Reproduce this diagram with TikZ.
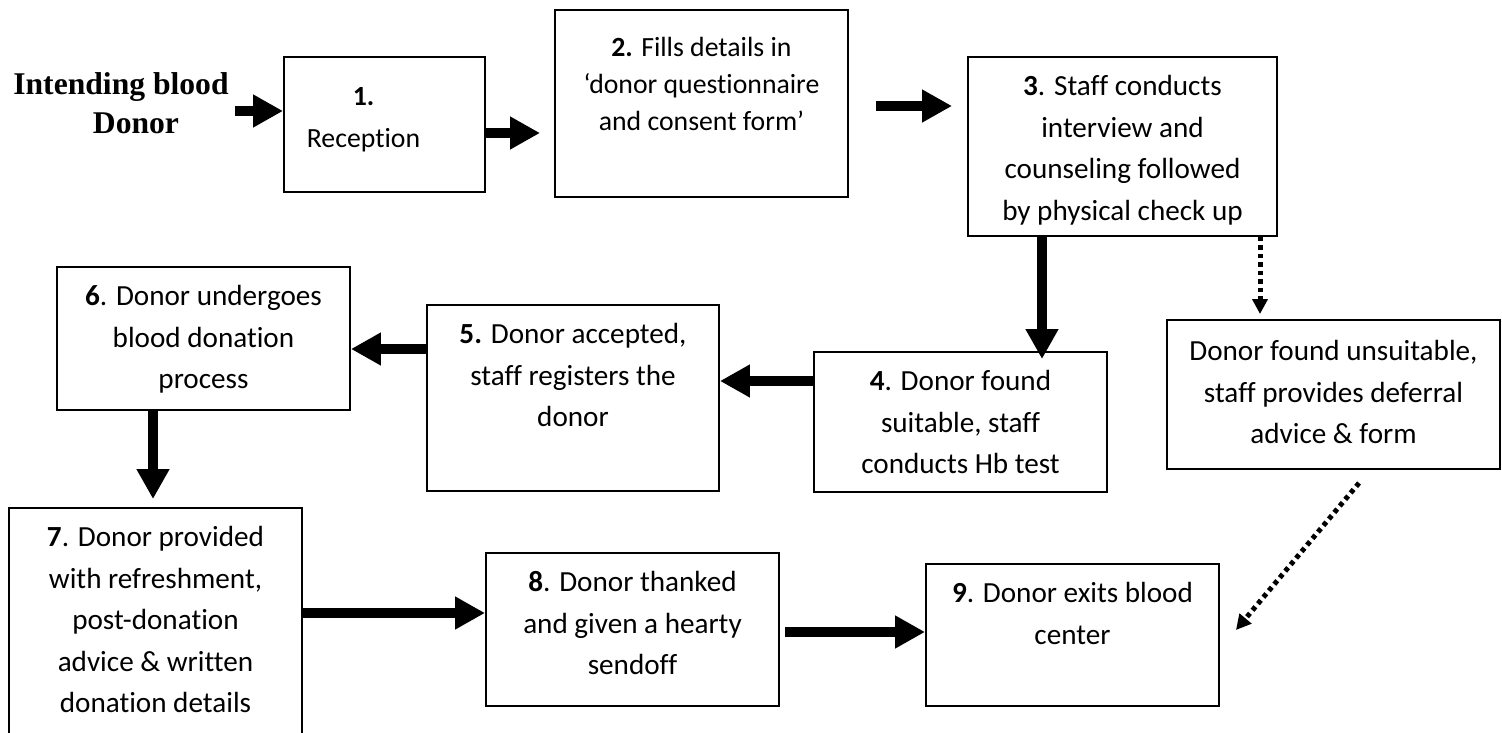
\documentclass[tikz,border=0pt]{standalone}
\usepackage{fontspec}
\setmainfont{Carlito}[Ligatures=NoCommon]
\newfontfamily\timesfont{Liberation Serif}
\usetikzlibrary{arrows.meta, positioning, fit, calc}

\tikzset{
  stepbox/.style={draw, line width=1.1pt, inner sep=0pt},
  steptext/.style={align=center, inner sep=0pt, font=\fontsize{16.6}{23.6}\selectfont},
  smalltext/.style={steptext, font=\fontsize{15.8}{21}\selectfont},
  bigarrow/.style={line width=0.19cm, -{Triangle[width=0.62cm, length=0.6cm]}},
  dotarrow/.style={line width=0.1cm, dash pattern=on 0.09cm off 0.08cm,
    -{Triangle[width=0.3cm, length=0.3cm]}},
}

\begin{document}
\begin{tikzpicture}[x=0.02cm, y=-0.02cm]
  \useasboundingbox (0,0) rectangle (1502,733);

  % boxes, corners in pixels of the sheet
  \node[stepbox, fit={(284,57) (485,192)}] (b1) {};
  \node[stepbox, fit={(555,10) (848,197)}] (b2) {};
  \node[stepbox, fit={(968,57) (1277,236)}] (b3) {};
  \node[stepbox, fit={(814,352) (1107,492)}] (b4) {};
  \node[stepbox, fit={(427,305) (719,491)}] (b5) {};
  \node[stepbox, fit={(57,267) (350,410)}] (b6) {};
  \node[stepbox, fit={(9,508) (302,745)}] (b7) {};
  \node[stepbox, fit={(486,553) (779,706)}] (b8) {};
  \node[stepbox, fit={(926,564) (1219,706)}] (b9) {};
  \node[stepbox, fit={(1167,320) (1500,469)}] (bU) {};

  % texts
  \node[font=\timesfont\bfseries\fontsize{18}{22.1}\selectfont, align=center] (donor) at (121,103)
    {Intending blood\\\hspace*{0.6cm}Donor};
  \node[smalltext, xshift=-0.42cm, below=0.62cm of b1.north] (t1) {\textbf{1.}\\[0.1cm]Reception};
  \node[smalltext, below=0.56cm of b2.north] (t2)
    {\textbf{2.} Fills details in\\`donor questionnaire\\and consent form'};
  \node[steptext, below=0.38cm of b3.north] (t3)
    {\textbf{3}. Staff conducts\\interview and\\counseling followed\\by physical check up};
  \node[steptext, below=0.38cm of b4.north] (t4)
    {\textbf{4}. Donor found\\suitable, staff\\conducts Hb test};
  \node[steptext, below=0.38cm of b5.north] (t5)
    {\textbf{5.} Donor accepted,\\staff registers the\\donor};
  \node[steptext, below=0.38cm of b6.north] (t6)
    {\textbf{6}. Donor undergoes\\blood donation\\process};
  \node[steptext, below=0.38cm of b7.north] (t7)
    {\textbf{7}. Donor provided\\with refreshment,\\post-donation\\advice \& written\\donation details};
  \node[steptext, below=0.38cm of b8.north] (t8)
    {\textbf{8}. Donor thanked\\and given a hearty\\sendoff};
  \node[steptext, below=0.38cm of b9.north] (t9)
    {\textbf{9}. Donor exits blood\\center};
  \node[steptext, below=0.42cm of bU.north] (tU)
    {Donor found unsuitable,\\staff provides deferral\\advice \& form};

  % flow
  \draw[bigarrow] (donor.east |- 0,111) -- (b1.west |- 0,111);
  \draw[bigarrow, shorten >=0.28cm] (b1.east |- 0,133) -- (b2.west |- 0,133);
  \draw[bigarrow, shorten <=0.54cm, shorten >=0.3cm] (b2.east |- 0,106) -- (b3.west |- 0,106);
  \draw[bigarrow, shorten >=-0.16cm] (b3.south -| 1042,0) -- (b4.north -| 1042,0);
  \draw[bigarrow] (b4.west |- 0,381) -- (b5.east |- 0,381);
  \draw[bigarrow] (b5.west |- 0,349) -- (b6.east |- 0,349);
  \draw[bigarrow, shorten >=0.16cm] (b6.south -| 153,0) -- (b7.north -| 153,0);
  \draw[bigarrow] (b7.east |- 0,613) -- (b8.west |- 0,613);
  \draw[bigarrow, shorten <=0.1cm] (b8.east |- 0,632) -- (b9.west |- 0,632);

  % unsuitable branch
  \draw[dotarrow, shorten >=0.1cm] (b3.south -| 1260,0) -- (bU.north -| 1260,0);
  \draw[dotarrow] ($(bU.south west)+(193,13)$) -- ($(b9.east)+(16,-5)$);
\end{tikzpicture}
\end{document}
